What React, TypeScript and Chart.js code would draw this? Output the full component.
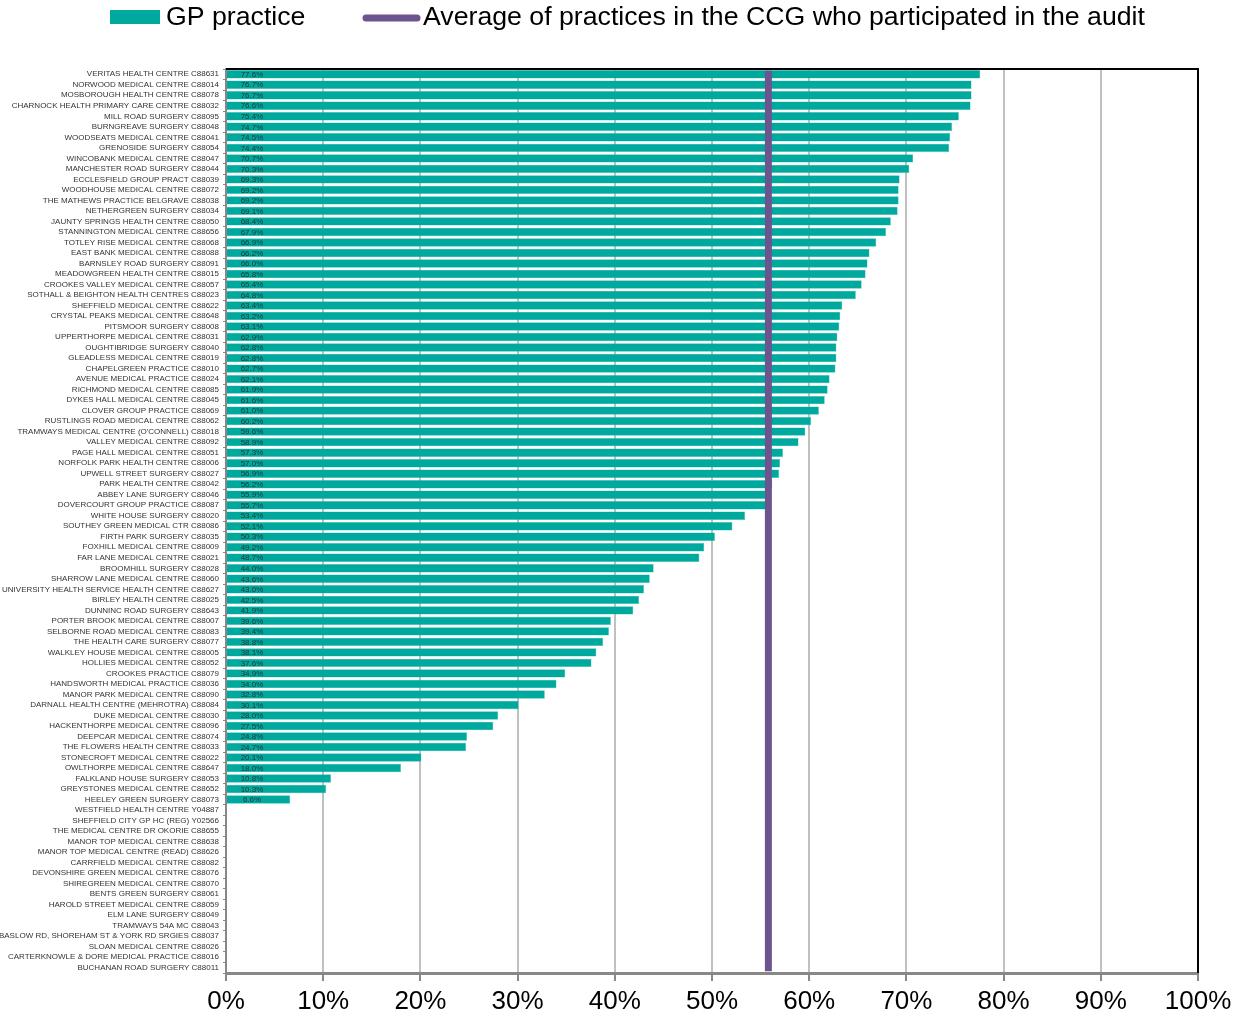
import React, { useEffect, useRef } from 'react';
import { Chart, registerables } from 'chart.js';

Chart.register(...registerables);

const practices: string[] = [
  'VERITAS HEALTH CENTRE C88631',
  'NORWOOD MEDICAL CENTRE C88014',
  'MOSBOROUGH HEALTH CENTRE C88078',
  'CHARNOCK HEALTH PRIMARY CARE CENTRE C88032',
  'MILL ROAD SURGERY C88095',
  'BURNGREAVE SURGERY C88048',
  'WOODSEATS MEDICAL CENTRE C88041',
  'GRENOSIDE SURGERY C88054',
  'WINCOBANK MEDICAL CENTRE C88047',
  'MANCHESTER ROAD SURGERY C88044',
  'ECCLESFIELD GROUP PRACT C88039',
  'WOODHOUSE MEDICAL CENTRE C88072',
  'THE MATHEWS PRACTICE BELGRAVE C88038',
  'NETHERGREEN SURGERY C88034',
  'JAUNTY SPRINGS HEALTH CENTRE C88050',
  'STANNINGTON MEDICAL CENTRE C88656',
  'TOTLEY RISE MEDICAL CENTRE C88068',
  'EAST BANK MEDICAL CENTRE C88088',
  'BARNSLEY ROAD SURGERY C88091',
  'MEADOWGREEN HEALTH CENTRE C88015',
  'CROOKES VALLEY MEDICAL CENTRE C88057',
  'SOTHALL & BEIGHTON HEALTH CENTRES C88023',
  'SHEFFIELD MEDICAL CENTRE C88622',
  'CRYSTAL PEAKS MEDICAL CENTRE C88648',
  'PITSMOOR SURGERY C88008',
  'UPPERTHORPE MEDICAL CENTRE C88031',
  'OUGHTIBRIDGE SURGERY C88040',
  'GLEADLESS MEDICAL CENTRE C88019',
  'CHAPELGREEN PRACTICE C88010',
  'AVENUE MEDICAL PRACTICE C88024',
  'RICHMOND MEDICAL CENTRE C88085',
  'DYKES HALL MEDICAL CENTRE C88045',
  'CLOVER GROUP PRACTICE C88069',
  'RUSTLINGS ROAD MEDICAL CENTRE C88062',
  "TRAMWAYS MEDICAL CENTRE (O'CONNELL) C88018",
  'VALLEY MEDICAL CENTRE C88092',
  'PAGE HALL MEDICAL CENTRE C88051',
  'NORFOLK PARK HEALTH CENTRE C88006',
  'UPWELL STREET SURGERY C88027',
  'PARK HEALTH CENTRE C88042',
  'ABBEY LANE SURGERY C88046',
  'DOVERCOURT GROUP PRACTICE C88087',
  'WHITE HOUSE SURGERY C88020',
  'SOUTHEY GREEN MEDICAL CTR C88086',
  'FIRTH PARK SURGERY C88035',
  'FOXHILL MEDICAL CENTRE C88009',
  'FAR LANE MEDICAL CENTRE C88021',
  'BROOMHILL SURGERY C88028',
  'SHARROW LANE MEDICAL CENTRE C88060',
  'UNIVERSITY HEALTH SERVICE HEALTH CENTRE C88627',
  'BIRLEY HEALTH CENTRE C88025',
  'DUNNINC ROAD SURGERY C88643',
  'PORTER BROOK MEDICAL CENTRE C88007',
  'SELBORNE ROAD MEDICAL CENTRE C88083',
  'THE HEALTH CARE SURGERY C88077',
  'WALKLEY HOUSE MEDICAL CENTRE C88005',
  'HOLLIES MEDICAL CENTRE C88052',
  'CROOKES PRACTICE C88079',
  'HANDSWORTH MEDICAL PRACTICE C88036',
  'MANOR PARK MEDICAL CENTRE C88090',
  'DARNALL HEALTH CENTRE (MEHROTRA) C88084',
  'DUKE MEDICAL CENTRE C88030',
  'HACKENTHORPE MEDICAL CENTRE C88096',
  'DEEPCAR MEDICAL CENTRE C88074',
  'THE FLOWERS HEALTH CENTRE C88033',
  'STONECROFT MEDICAL CENTRE C88022',
  'OWLTHORPE MEDICAL CENTRE C88647',
  'FALKLAND HOUSE SURGERY C88053',
  'GREYSTONES MEDICAL CENTRE C88652',
  'HEELEY GREEN SURGERY C88073',
  'WESTFIELD HEALTH CENTRE Y04887',
  'SHEFFIELD CITY GP HC (REG) Y02566',
  'THE MEDICAL CENTRE DR OKORIE C88655',
  'MANOR TOP MEDICAL CENTRE C88638',
  'MANOR TOP MEDICAL CENTRE (READ) C88626',
  'CARRFIELD MEDICAL CENTRE C88082',
  'DEVONSHIRE GREEN MEDICAL CENTRE C88076',
  'SHIREGREEN MEDICAL CENTRE C88070',
  'BENTS GREEN SURGERY C88061',
  'HAROLD STREET MEDICAL CENTRE C88059',
  'ELM LANE SURGERY C88049',
  'TRAMWAYS 54A MC C88043',
  'BASLOW RD, SHOREHAM ST & YORK RD SRGIES C88037',
  'SLOAN MEDICAL CENTRE C88026',
  'CARTERKNOWLE & DORE MEDICAL PRACTICE C88016',
  'BUCHANAN ROAD SURGERY C88011',
];

const practiceValues: (number | null)[] = [
  77.6, 76.7, 76.7, 76.6, 75.4, 74.7, 74.5, 74.4, 70.7, 70.3,
  69.3, 69.2, 69.2, 69.1, 68.4, 67.9, 66.9, 66.2, 66.0, 65.8,
  65.4, 64.8, 63.4, 63.2, 63.1, 62.9, 62.8, 62.8, 62.7, 62.1,
  61.9, 61.6, 61.0, 60.2, 59.6, 58.9, 57.3, 57.0, 56.9, 56.2,
  55.9, 55.7, 53.4, 52.1, 50.3, 49.2, 48.7, 44.0, 43.6, 43.0,
  42.5, 41.9, 39.6, 39.4, 38.8, 38.1, 37.6, 34.9, 34.0, 32.8,
  30.1, 28.0, 27.5, 24.8, 24.7, 20.1, 18.0, 10.8, 10.3, 6.6,
  null, null, null, null, null, null, null, null, null, null,
  null, null, null, null, null, null,
];

const ccgAverage = 55.8;

const seriesNames = ['GP practice', 'Average of practices in the CCG who participated in the audit'];

const TEAL = '#00a99d';
const PURPLE = '#6c548e';
const FONT = "'Liberation Sans', Arial, sans-serif";

const decorPlugin = {
  id: 'decor',
  afterDatasetsDraw(chart: any) {
    const { ctx, scales } = chart;
    const xs = scales.x;
    const ys = scales.y;
    ctx.save();
    ctx.font = `8px ${FONT}`;
    ctx.fillStyle = '#1d3431';
    ctx.textAlign = 'center';
    ctx.textBaseline = 'middle';
    const x0 = xs.getPixelForValue(0);
    practiceValues.forEach((v, i) => {
      if (v == null) return;
      ctx.fillText(v.toFixed(1) + '%', x0 + 26, ys.getPixelForValue(i) + 0.5);
    });
    ctx.restore();
  },
  afterDraw(chart: any) {
    const { ctx, chartArea } = chart;
    ctx.save();
    ctx.strokeStyle = '#000';
    ctx.lineWidth = 2;
    ctx.beginPath();
    ctx.moveTo(chartArea.left, chartArea.top);
    ctx.lineTo(chartArea.right, chartArea.top);
    ctx.lineTo(chartArea.right, chartArea.bottom);
    ctx.stroke();
    ctx.font = `26.7px ${FONT}`;
    ctx.textBaseline = 'middle';
    ctx.textAlign = 'left';
    ctx.fillStyle = TEAL;
    ctx.fillRect(110, 10, 50, 14);
    ctx.fillStyle = '#000';
    ctx.fillText(seriesNames[0], 166, 18);
    ctx.strokeStyle = PURPLE;
    ctx.lineWidth = 7;
    ctx.lineCap = 'round';
    ctx.beginPath();
    ctx.moveTo(366, 18);
    ctx.lineTo(417, 18);
    ctx.stroke();
    ctx.fillText(seriesNames[1], 423, 18);
    ctx.restore();
  },
};

export default function App() {
  const ref = useRef<HTMLCanvasElement>(null);
  useEffect(() => {
    if (!ref.current) return;
    const chart = new Chart(ref.current, {
      type: 'bar',
      data: {
        labels: practices,
        datasets: [
          {
            type: 'line',
            label: seriesNames[1],
            data: [
              { x: ccgAverage, y: practices[0] },
              { x: ccgAverage, y: practices[practices.length - 1] },
            ] as any,
            borderColor: PURPLE,
            backgroundColor: PURPLE,
            borderWidth: 7,
            pointRadius: 0,
            borderCapStyle: 'square',
            order: 1,
          } as any,
          {
            type: 'bar',
            label: seriesNames[0],
            data: practiceValues,
            backgroundColor: TEAL,
            borderColor: '#3fc2b8',
            borderWidth: 0.5,
            categoryPercentage: 1,
            barPercentage: 0.8,
            order: 2,
          } as any,
        ],
      },
      options: {
        indexAxis: 'y',
        animation: false,
        responsive: true,
        maintainAspectRatio: false,
        layout: { padding: { top: 69, right: 36, left: 0, bottom: 0 } },
        plugins: {
          legend: { display: false },
          tooltip: { enabled: false },
        },
        scales: {
          x: {
            type: 'linear',
            min: 0,
            max: 100,
            position: 'bottom',
            ticks: {
              stepSize: 10,
              callback: (v: any) => v + '%',
              font: { size: 26, family: FONT },
              color: '#000',
              padding: 5,
              maxRotation: 0,
            },
            grid: {
              color: '#c0c0c0',
              lineWidth: 2,
              tickColor: '#888',
              tickLength: 8,
            },
            border: { color: '#888', width: 3 },
            afterFit: (s: any) => {
              s.height = 45;
              s.paddingRight = 0;
              s.paddingLeft = 0;
            },
          },
          y: {
            type: 'category',
            ticks: {
              autoSkip: false,
              font: { size: 8, family: FONT },
              color: '#333',
              padding: 4,
            },
            grid: {
              drawOnChartArea: false,
              color: '#888',
              tickLength: 3,
            },
            border: { color: '#888', width: 2 },
            afterFit: (s: any) => { s.width = 226; },
          },
        },
      },
      plugins: [decorPlugin],
    });
    return () => chart.destroy();
  }, []);
  return (
    <div style={{ position: 'fixed', left: 0, top: 0, width: 1234, height: 1018, background: '#fff' }}>
      <canvas ref={ref} />
    </div>
  );
}
